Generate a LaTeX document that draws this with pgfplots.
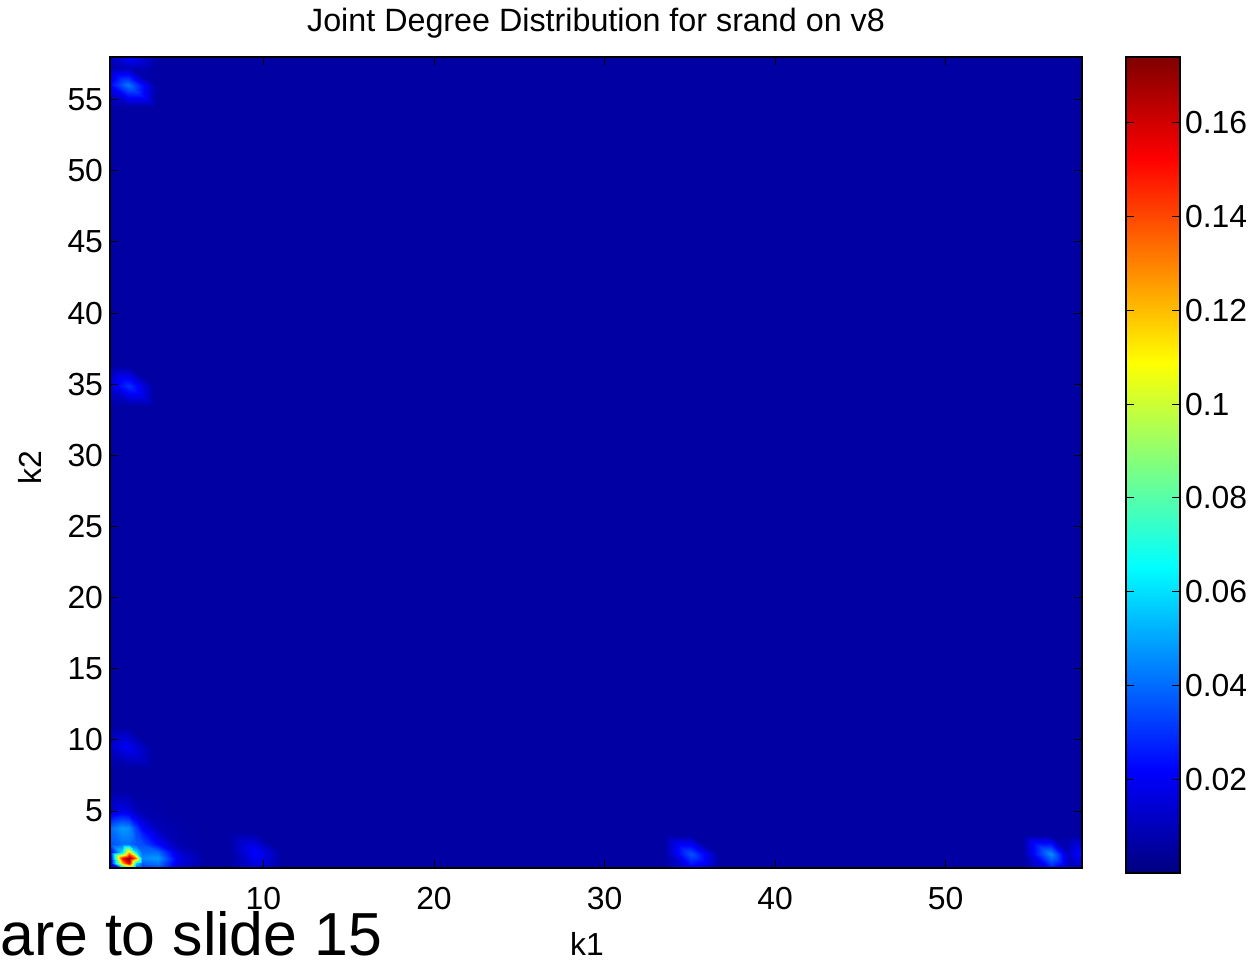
\documentclass[border=0pt]{standalone}
\usepackage{pgfplots}
\pgfplotsset{compat=1.18}
\usepackage{fontspec}
\setmainfont{Liberation Sans}
\pgfplotsset{/pgf/number format/assume math mode=true}

\pgfplotstableread{
x y c
1 1 0.006
58 1 0.006
1 58 0.006
58 58 0.006
}\bg

\pgfplotstableread{
x y c
1 1 0.010
1.7 1 0.040
2.1 1 0.070
2.5 1 0.030
2.9 1 0.030
3.8 1 0.035
5 1 0.014
6.5 1 0.006
1 1.35 0.014
1.7 1.35 0.120
2.1 1.35 0.160
2.5 1.35 0.060
2.9 1.35 0.038
3.8 1.35 0.042
5 1.35 0.016
6.5 1.35 0.006
1 1.7 0.015
1.7 1.7 0.150
2.1 1.7 0.174
2.5 1.7 0.130
2.9 1.7 0.045
3.8 1.7 0.048
5 1.7 0.018
6.5 1.7 0.006
1 2.1 0.020
1.7 2.1 0.060
2.1 2.1 0.120
2.5 2.1 0.060
2.9 2.1 0.040
3.8 2.1 0.040
5 2.1 0.014
6.5 2.1 0.006
1 2.7 0.035
1.7 2.7 0.040
2.1 2.7 0.040
2.5 2.7 0.036
2.9 2.7 0.035
3.8 2.7 0.022
5 2.7 0.008
6.5 2.7 0.006
1 3.8 0.040
1.7 3.8 0.048
2.1 3.8 0.046
2.5 3.8 0.032
2.9 3.8 0.022
3.8 3.8 0.010
5 3.8 0.007
6.5 3.8 0.006
1 5 0.014
1.7 5 0.018
2.1 5 0.016
2.5 5 0.010
2.9 5 0.008
3.8 5 0.007
5 5 0.006
6.5 5 0.006
1 6.5 0.006
1.7 6.5 0.006
2.1 6.5 0.006
2.5 6.5 0.006
2.9 6.5 0.006
3.8 6.5 0.006
5 6.5 0.006
6.5 6.5 0.006
}\corner

\pgfplotstableread{
x y c
8 1 0.006
9.5 1 0.016
11 1 0.006
8 2.2 0.006
9.5 2.2 0.022
11 2.2 0.006
8 3.5 0.006
9.5 3.5 0.006
11 3.5 0.006
}\spotA

\pgfplotstableread{
x y c
1 8 0.006
2 8 0.006
3.5 8 0.006
1 9.5 0.013
2 9.5 0.020
3.5 9.5 0.006
1 11 0.006
2 11 0.006
3.5 11 0.006
}\spotB

\pgfplotstableread{
x y c
33.5 1 0.006
35.1 1 0.020
36.7 1 0.006
33.5 2.0 0.006
35.1 2.0 0.036
36.7 2.0 0.006
33.5 3.3 0.006
35.1 3.3 0.006
36.7 3.3 0.006
}\spotC

\pgfplotstableread{
x y c
1 33.5 0.006
2.1 33.5 0.006
3.6 33.5 0.006
1 34.9 0.016
2.1 34.9 0.030
3.6 34.9 0.006
1 36.3 0.006
2.1 36.3 0.006
3.6 36.3 0.006
}\spotD

\pgfplotstableread{
x y c
54.5 1 0.006
56.2 1 0.025
57.2 1 0.010
58 1 0.015
54.5 2.0 0.006
56.2 2.0 0.046
57.2 2.0 0.012
58 2.0 0.026
54.5 3.3 0.006
56.2 3.3 0.006
57.2 3.3 0.006
58 3.3 0.006
}\spotE

\pgfplotstableread{
x y c
1 54.5 0.006
2.05 54.5 0.006
3.7 54.5 0.006
1 56 0.022
2.05 56 0.042
3.7 56 0.006
1 57.2 0.008
2.05 57.2 0.010
3.7 57.2 0.006
1 58 0.012
2.05 58 0.022
3.7 58 0.006
}\spotF

\pgfplotstableread{
x y c
0 0 0
1 0 0
0 0.174 0.174
1 0.174 0.174
}\cbar

\begin{document}
\begin{tikzpicture}
\useasboundingbox (0,0) rectangle (628bp,480bp);
\begin{axis}[
  at={(55bp,46bp)}, anchor=south west,
  scale only axis, width=486bp, height=405.5bp,
  xmin=1, xmax=58, ymin=1, ymax=58,
  enlargelimits=false,
  axis on top,
  colormap/jet,
  point meta min=0, point meta max=0.174,
  xtick={10,20,30,40,50},
  ytick={5,10,15,20,25,30,35,40,45,50,55},
  tick align=inside,
  major tick length=4bp,
  tick style={black, line width=0.5bp},
  axis line style={black, line width=0.8bp},
  tick label style={font=\fontsize{16}{18}\selectfont},
  xticklabel style={yshift=-6bp},
  title={Joint Degree Distribution for srand on v8},
  title style={font=\fontsize{16.2}{18}\selectfont, at={(axis description cs:0.5,1)}, anchor=base, yshift=7bp},
  colorbar,
  colorbar/draw/.code={%
    \begin{axis}[every colorbar, colorbar shift, colorbar=false]
    \addplot[surf, shader=interp, mesh/cols=2, point meta=explicit] table[meta=c] {\cbar};
    \end{axis}
  },
  colorbar style={
    at={(parent axis.north east)}, anchor=north west,
    xshift=13.5bp,
    width=27bp, height=408bp,
    xmin=0, xmax=1, ymin=0, ymax=0.174,
    enlargelimits=false,
    axis on top,
    ytick={0.02,0.04,0.06,0.08,0.1,0.12,0.14,0.16},
    yticklabels={0.02,0.04,0.06,0.08,0.1,0.12,0.14,0.16},
    yticklabel style={font=\fontsize{16}{18}\selectfont, xshift=-1bp},
    tick align=inside,
    major tick length=4bp,
    ytick pos=both,
    yticklabel pos=right,
    axis line style={black, line width=0.8bp},
  },
]
\addplot[surf, shader=interp, mesh/cols=2, point meta=explicit] table[meta=c] {\bg};
\addplot[surf, shader=interp, mesh/cols=8, point meta=explicit] table[meta=c] {\corner};
\addplot[surf, shader=interp, mesh/cols=3, point meta=explicit] table[meta=c] {\spotA};
\addplot[surf, shader=interp, mesh/cols=3, point meta=explicit] table[meta=c] {\spotB};
\addplot[surf, shader=interp, mesh/cols=3, point meta=explicit] table[meta=c] {\spotC};
\addplot[surf, shader=interp, mesh/cols=3, point meta=explicit] table[meta=c] {\spotD};
\addplot[surf, shader=interp, mesh/cols=4, point meta=explicit] table[meta=c] {\spotE};
\addplot[surf, shader=interp, mesh/cols=3, point meta=explicit] table[meta=c] {\spotF};
\end{axis}
\node[font=\fontsize{16}{18}\selectfont, inner sep=1pt] at (293.5bp,8bp) {k1};
\node[font=\fontsize{16}{18}\selectfont, rotate=90] at (15bp,246bp) {k2};
\node[font=\fontsize{30.5}{34}\selectfont, anchor=base west, inner sep=0pt] at (0bp,2.5bp) {are to slide 15};
\end{tikzpicture}
\end{document}
